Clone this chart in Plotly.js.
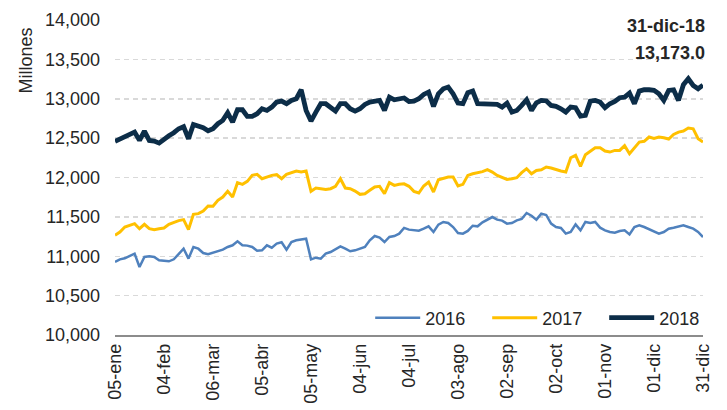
<!DOCTYPE html>
<html>
<head>
<meta charset="utf-8">
<script src="https://cdn.plot.ly/plotly-3.0.1.min.js"></script>
<style>
html,body{margin:0;padding:0;background:#fff;}
#chart{width:727px;height:410px;}
</style>
</head>
<body>
<div id="chart"></div>
<script>
// Day of year (2018 calendar) for each sample
const days = [5,8,11,14,17,20,23,26,29,32,35,38,41,44,47,50,53,56,59,62,65,68,71,74,77,80,83,86,89,92,95,98,101,104,107,110,113,116,119,122,125,128,131,134,137,140,143,146,149,152,155,158,161,164,167,170,173,176,179,182,185,188,191,194,197,200,203,206,209,212,215,218,221,224,227,230,233,236,239,242,245,248,251,254,257,260,263,266,269,272,275,278,281,284,287,290,293,296,299,302,305,308,311,314,317,320,323,326,329,332,335,338,341,344,347,350,353,356,359,362,365];

const values2016 = [10927,10961,10974,10999,11033,10864,10991,10999,10991,10949,10940,10936,10961,11033,11096,10970,11118,11096,11041,11025,11046,11063,11084,11118,11139,11190,11139,11135,11118,11070,11075,11139,11109,11160,11177,11084,11181,11202,11211,11223,10961,10982,10970,11033,11054,11092,11126,11096,11063,11075,11096,11118,11202,11257,11236,11181,11245,11257,11287,11360,11338,11329,11325,11350,11380,11308,11401,11435,11422,11371,11295,11287,11321,11388,11380,11431,11469,11498,11465,11452,11414,11422,11456,11473,11549,11515,11465,11541,11524,11414,11371,11359,11287,11308,11405,11329,11435,11422,11435,11363,11329,11308,11300,11321,11329,11278,11371,11393,11371,11346,11312,11287,11308,11350,11363,11380,11393,11371,11350,11308,11244];

const values2017 = [11266,11308,11371,11393,11414,11350,11405,11350,11338,11350,11359,11405,11431,11452,11465,11338,11532,11541,11574,11638,11634,11710,11752,11824,11752,11934,11913,11951,12027,12040,11985,12006,12027,12036,11985,12040,12061,12082,12069,12082,11824,11866,11858,11849,11858,11888,11985,11866,11858,11828,11786,11794,11837,11879,11888,11794,11934,11900,11913,11920,11888,11824,11803,11892,11942,11816,11972,11985,12006,12006,11892,11913,12027,12048,12057,12074,12099,12069,12027,12006,11976,11985,11997,12061,12112,12048,12090,12099,12133,12120,12099,12082,12069,12251,12281,12141,12290,12336,12378,12378,12336,12323,12344,12344,12404,12302,12378,12450,12459,12514,12497,12514,12505,12488,12547,12577,12590,12628,12619,12492,12450];

const values2018 = [12459,12492,12522,12547,12577,12471,12590,12471,12463,12437,12492,12530,12569,12619,12645,12492,12674,12657,12632,12594,12619,12683,12725,12822,12704,12860,12860,12776,12776,12810,12873,12852,12894,12958,12970,12937,12979,13000,13114,12852,12717,12831,12937,12937,12886,12843,12937,12937,12873,12843,12873,12928,12958,12962,12979,12852,13021,12987,13000,13010,12966,12970,13000,13055,13085,12903,13063,13127,13148,13063,12945,12937,13076,13097,12937,12937,12937,12924,12928,12894,12945,12831,12852,12915,12987,12852,12949,12979,12975,12915,12903,12873,12831,12894,12886,12780,12790,12970,12979,12958,12886,12937,12966,13013,13021,13072,12937,13097,13114,13114,13106,13063,12979,13106,13114,12979,13178,13254,13169,13127,13173];

const seriesNames = ['2016','2017','2018'];
const tickDays = [5,35,65,95,125,155,185,215,245,275,305,335,365];
const tickLabels = ['05-ene','04-feb','06-mar','05-abr','05-may','04-jun','04-jul','03-ago','02-sep','02-oct','01-nov','01-dic','31-dic'];
const yTicks = [10000,10500,11000,11500,12000,12500,13000,13500,14000];
const lastLabel = '31-dic-18';
const lastValue = '13,173.0';

function toDate(d){
  const t = new Date(Date.UTC(2018,0,d));
  return t.toISOString().slice(0,10);
}
const xDates = days.map(toDate);

const FONT = '"Liberation Sans", Arial, sans-serif';
const FS = 18;
const TXT = '#262626';

const traces = [
  {x:xDates, y:values2016, name:seriesNames[0], type:'scatter', mode:'lines', line:{color:'#4F81BD', width:2.5}},
  {x:xDates, y:values2017, name:seriesNames[1], type:'scatter', mode:'lines', line:{color:'#FFC000', width:3}},
  {x:xDates, y:values2018, name:seriesNames[2], type:'scatter', mode:'lines', line:{color:'#0C2D48', width:4.8}}
];

const layout = {
  width:727, height:410,
  margin:{l:115, r:24, t:20, b:75, autoexpand:false},
  paper_bgcolor:'#fff', plot_bgcolor:'#fff',
  font:{family:FONT, size:FS, color:TXT},
  showlegend:true,
  legend:{orientation:'h', x:0.434, xanchor:'left', y:0.054, yanchor:'middle',
          bgcolor:'rgba(0,0,0,0)', font:{family:FONT, size:FS, color:TXT},
          itemwidth:45, entrywidth:57, entrywidthmode:'pixels', traceorder:'normal'},
  xaxis:{type:'date', range:[toDate(5), toDate(365)],
         tickmode:'array', tickvals:tickDays.map(toDate), ticktext:tickLabels,
         tickangle:-90, showgrid:false, showline:true, linecolor:'#8C8C8C', linewidth:1.5,
         ticks:'', zeroline:false, automargin:false, tickfont:{family:FONT, size:FS, color:TXT}},
  yaxis:{range:[10000,14000], tickmode:'array', tickvals:yTicks,
         ticktext:yTicks.map(v=>v.toLocaleString('en-US')),
         showgrid:true, gridcolor:'#D9D9D9', gridwidth:1.5, griddash:'5px,4px',
         zeroline:false, showline:false, ticks:'', ticklabelstandoff:14, automargin:false,
         tickfont:{family:FONT, size:FS, color:TXT}},
  annotations:[
    {text:'Millones', xref:'paper', yref:'paper', x:-0.152, y:0.87, textangle:-90,
     showarrow:false, font:{family:FONT, size:FS, color:TXT}, xanchor:'center', yanchor:'middle'},
    {text:'<b>'+lastLabel+'</b>', xref:'paper', yref:'paper', x:1.007, y:0.981,
     xanchor:'right', yanchor:'middle', showarrow:false, font:{family:FONT, size:FS, color:TXT}},
    {text:'<b>'+lastValue+'</b>', xref:'paper', yref:'paper', x:1.007, y:0.895,
     xanchor:'right', yanchor:'middle', showarrow:false, font:{family:FONT, size:FS, color:TXT}}
  ]
};

Plotly.newPlot('chart', traces, layout, {displayModeBar:false, staticPlot:true});
</script>
</body>
</html>
